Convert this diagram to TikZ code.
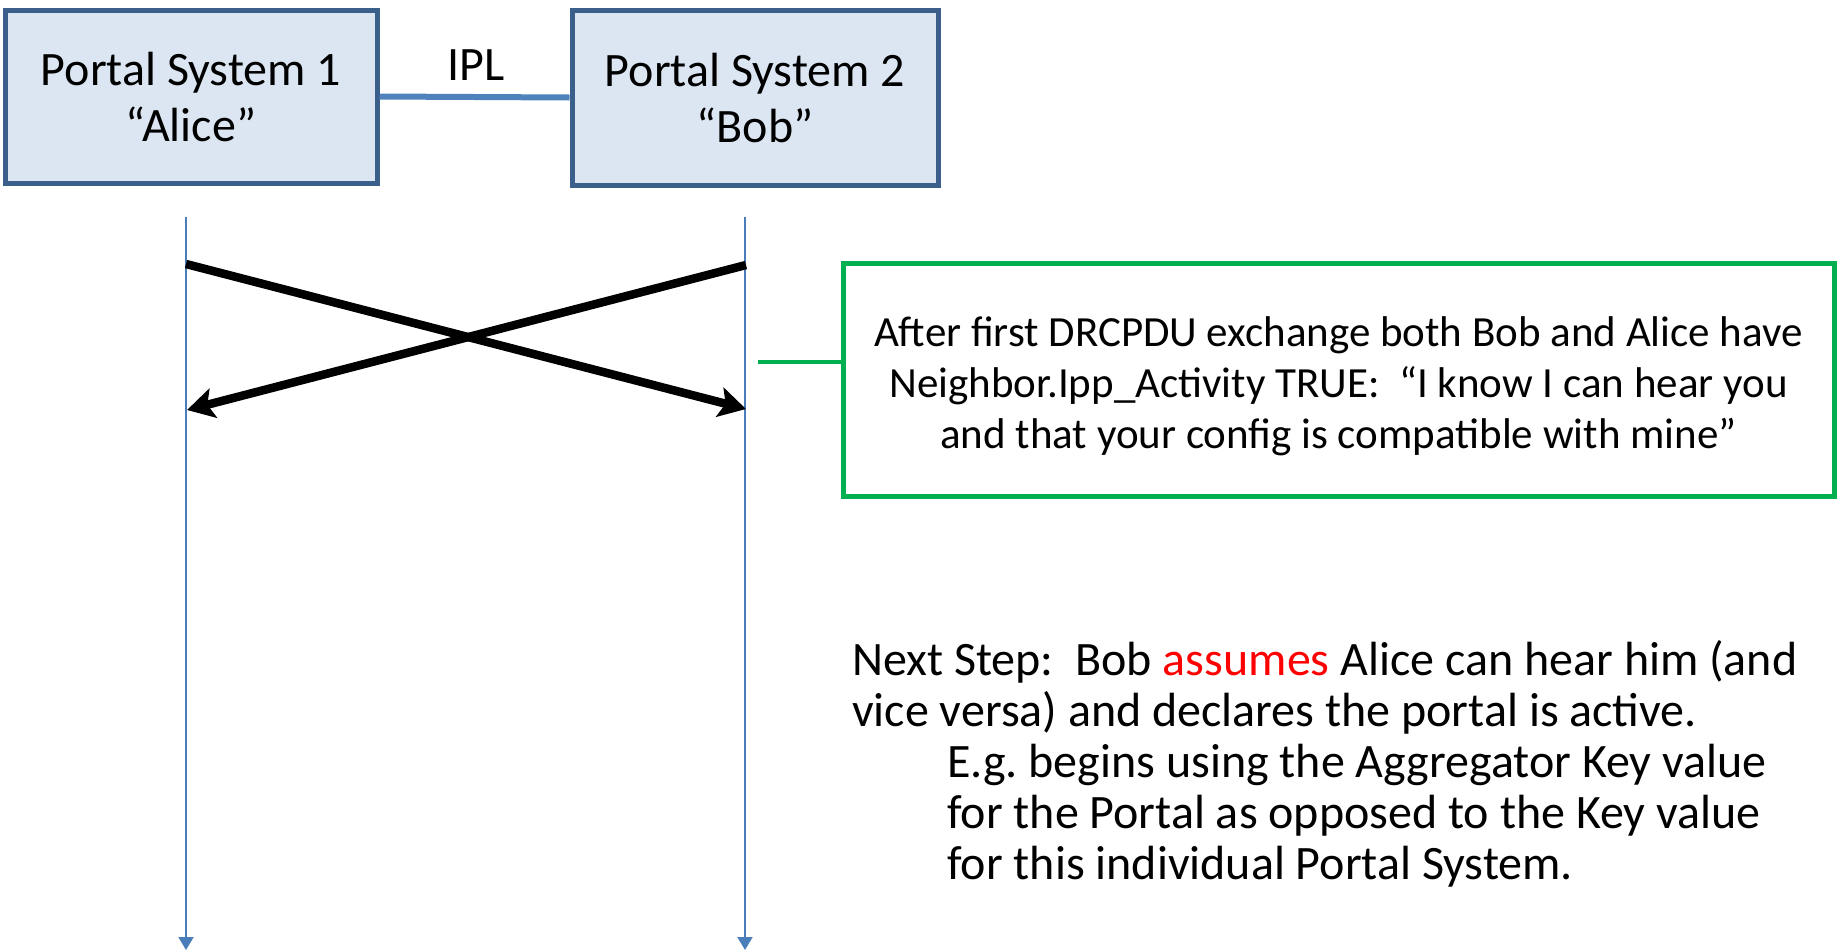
\documentclass[tikz,border=0pt]{standalone}
\usepackage{fontspec}
\setmainfont{Carlito}
\usetikzlibrary{arrows.meta}
\definecolor{boxfill}{HTML}{DCE6F2}
\definecolor{boxline}{HTML}{3A5F8B}
\definecolor{iplblue}{HTML}{4F81BD}
\definecolor{lifeblue}{HTML}{4A7EBB}
\definecolor{notegreen}{HTML}{00B050}
\definecolor{hired}{HTML}{FF0000}
\tikzset{
  portal/.style={draw=boxline, line width=5pt, fill=boxfill, minimum width=372pt, minimum height=173pt,
    align=center, inner sep=0pt, font=\fontsize{48}{56}\selectfont},
  lifeline/.style={draw=lifeblue, line width=2pt, -{Triangle[length=13pt,width=15pt]}},
  msg/.style={draw=black, line width=8.5pt, -{Stealth[length=27pt,width=30pt,inset=6pt]}},
  note/.style={draw=notegreen, line width=5pt, minimum width=991pt, minimum height=233pt, inner sep=0pt},
  notetxt/.style={align=center, inner sep=0pt, font=\fontsize{43}{51}\selectfont},
  plain/.style={align=left, inner sep=0pt, font=\fontsize{48}{51}\selectfont},
}
\frenchspacing
\begin{document}
\begin{tikzpicture}[x=1pt,y=-1pt]
\useasboundingbox (0,0) rectangle (1841,951);
\node[portal] (alice) at (191,96.5) {Portal System 1\\“Alice”};
\node[portal, minimum width=366pt, minimum height=175pt] (bob) at (755,97.5) {Portal System 2\\“Bob”};
\draw[draw=iplblue, line width=6pt] (alice.east) -- (bob.west);
\node[inner sep=0pt, font=\fontsize{48}{56}\selectfont] (ipl) at (476,65) {IPL};
% lifelines
\coordinate (atop) at (186,217);
\coordinate (abot) at (186,950);
\coordinate (btop) at (745,217);
\coordinate (bbot) at (745,950);
\draw[lifeline] (atop) -- (abot);
\draw[lifeline] (btop) -- (bbot);
% messages
\coordinate (a1) at (186,264);
\coordinate (b1) at (746,409);
\coordinate (b2) at (746,265);
\coordinate (a2) at (187,410);
\draw[msg] (a1) -- (b1);
\draw[msg] (b2) -- (a2);
% note
\node[note] (note) at (1338.5,379.5) {};
\node[notetxt] (notetext) at (1338.5,386) {After first DRCPDU exchange both Bob and Alice have\\Neighbor.Ipp\_Activity TRUE:\ \ “I know I can hear you\\and that your config is compatible with mine”};
\coordinate (gstart) at (758,362);
\draw[draw=notegreen, line width=4pt] (gstart) -- (gstart -| note.west);
% next step text
\node[plain, anchor=base west] (next) at (852,726) {Next Step:\ \ Bob \textcolor{hired}{assumes} Alice can hear him (and\\vice versa) and declares the portal is active.};
\node[plain, anchor=base west] (eg) at (947,879) {E.g. begins using the Aggregator Key value\\for the Portal as opposed to the Key value\\for this individual Portal System.};
\end{tikzpicture}
\end{document}
